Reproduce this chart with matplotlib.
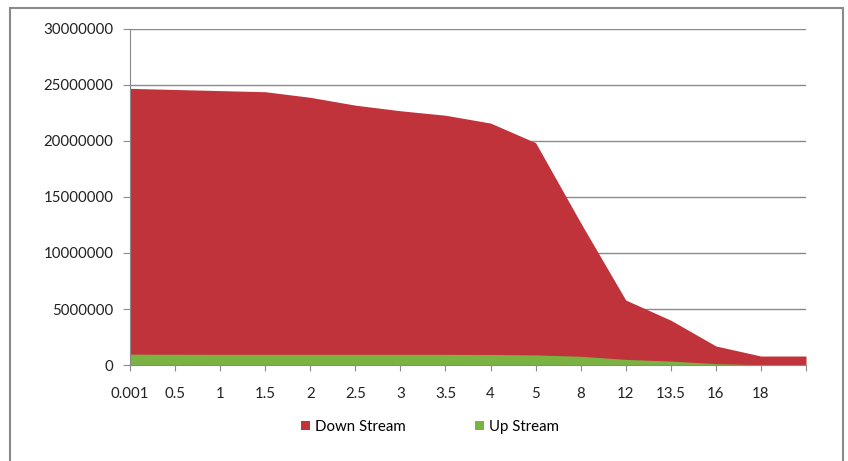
import matplotlib.pyplot as plt
from matplotlib.patches import Rectangle, Patch

# categorias del eje x (la ultima no tiene etiqueta)
categorias = ['0.001', '0.5', '1', '1.5', '2', '2.5', '3', '3.5', '4', '5',
              '8', '12', '13.5', '16', '18', '']
down_stream = [24700000, 24600000, 24500000, 24400000, 23900000, 23200000,
               22700000, 22300000, 21600000, 19850000, 12700000, 5800000,
               4000000, 1700000, 800000, 800000]
up_stream = [970000, 960000, 950000, 950000, 950000, 950000, 950000, 950000,
             940000, 900000, 780000, 500000, 350000, 120000, 30000, 20000]

plt.rcParams['font.family'] = ['Lato', 'DejaVu Sans']
plt.rcParams['font.size'] = 10.8

rojo = '#C1333A'
verde = '#7AB342'
gris = '#8a8a8a'

fig = plt.figure(figsize=(8.48, 4.61), dpi=100)
ax = fig.add_axes([130 / 848, 1 - 365 / 461, 676 / 848, 336 / 461])

x = list(range(len(categorias)))
ax.fill_between(x, 0, down_stream, color=rojo, linewidth=0, zorder=2)
ax.fill_between(x, 0, up_stream, color=verde, linewidth=0, zorder=3)

ax.set_xlim(0, len(categorias) - 1)
ax.set_ylim(0, 30000000)
ax.set_xticks(x)
ax.set_xticklabels(categorias)
ax.set_yticks(range(0, 30000001, 5000000))
ax.set_yticklabels([str(v) for v in range(0, 30000001, 5000000)])

ax.yaxis.grid(True, color=gris, linewidth=1)
ax.set_axisbelow(True)
for lado in ['top', 'right']:
    ax.spines[lado].set_visible(False)
for lado in ['left', 'bottom']:
    ax.spines[lado].set_color(gris)
    ax.spines[lado].set_zorder(4)
ax.tick_params(axis='x', length=4, color=gris, pad=12, labelcolor='#222222')
ax.tick_params(axis='y', length=5, color=gris, pad=7, labelcolor='#222222')

# leyenda
handles = [Patch(facecolor=rojo, label='Down Stream'),
           Patch(facecolor=verde, label='Up Stream')]
fig.legend(handles=handles, loc='center', bbox_to_anchor=(0.507, 1 - 427 / 461),
           ncol=2, frameon=False, handlelength=0.6, handleheight=0.6,
           handletextpad=0.35, columnspacing=4.6)

# borde exterior
fig.patches.append(Rectangle((10 / 848, -0.05), 833 / 848, 1.05 - 8 / 461,
                             transform=fig.transFigure, fill=False,
                             edgecolor=gris, linewidth=1.5))

plt.savefig('out.png', dpi=100)
